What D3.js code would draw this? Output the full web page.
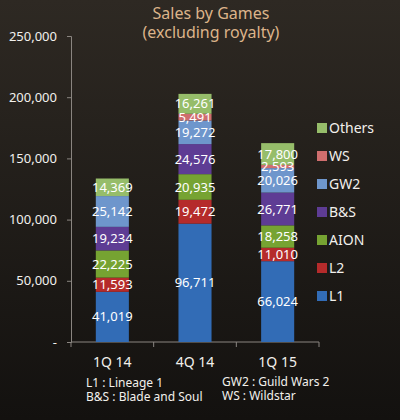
<!DOCTYPE html>
<html>
<head>
<meta charset="utf-8">
<script src="https://cdn.jsdelivr.net/npm/d3@7"></script>
<style>
  body { margin: 0; background: #1a1714; }
  svg text { font-family: "Noto Sans", "Open Sans", sans-serif; }
</style>
</head>
<body>
<div id="c"></div>
<script>
"use strict";

// chart data (values in the original units)
const quarters = ["1Q 14", "4Q 14", "1Q 15"]
const games = ["L1", "L2", "AION", "B&S", "GW2", "WS", "Others"]
const L1 = [41019, 96711, 66024]
const L2 = [11593, 19472, 11010]
const AION = [22225, 20935, 18258]
const BNS = [19234, 24576, 26771]
const GW2 = [25142, 19272, 20026]
const WS = [0, 5491, 2593]
const Others = [14369, 16261, 17800]
const yTicks = [0, 50000, 100000, 150000, 200000, 250000]
const notesLeft = ["L1 : Lineage 1", "B&S : Blade and Soul"]
const notesRight = ["GW2 : Guild Wars 2", "WS : Wildstar"]

const colors = {
    "L1": "#326cb6",
    "L2": "#b52b2b",
    "AION": "#76a332",
    "B&S": "#5e3c94",
    "GW2": "#6e96cc",
    "WS": "#cf6e6e",
    "Others": "#96bd6a"
}

const W = 400, H = 420
const margin = {top: 36, right: 81, bottom: 78, left: 71}

let svg = d3.select('#c').append('svg')
    .attr('width', W).attr('height', H)

// background gradient
let defs = svg.append('defs')
let bgGrad = defs.append('linearGradient').attr('id', 'bg')
    .attr('x1', 0).attr('y1', 0).attr('x2', 0).attr('y2', 1)
bgGrad.append('stop').attr('offset', '0%').attr('stop-color', '#2e2923')
bgGrad.append('stop').attr('offset', '100%').attr('stop-color', '#13110f')
svg.append('rect').attr('width', W).attr('height', H).attr('fill', 'url(#bg)')

// title
svg.append('text').attr('x', 211).attr('y', 19)
    .attr('text-anchor', 'middle').attr('fill', '#dcb48a')
    .style('font-size', '16px').text("Sales by Games")
svg.append('text').attr('x', 211).attr('y', 38)
    .attr('text-anchor', 'middle').attr('fill', '#dcb48a')
    .style('font-size', '16px').text("(excluding royalty)")

// build table rows
const seriesData = [L1, L2, AION, BNS, GW2, WS, Others]
let rows = quarters.map((q, i) => {
    let r = {quarter: q}
    games.forEach((g, k) => r[g] = seriesData[k][i])
    return r
})
let stacked = d3.stack().keys(games)(rows)

const width = W - margin.left - margin.right
const height = H - margin.top - margin.bottom

let xScale = d3.scaleBand().domain(quarters).range([margin.left, margin.left + width])
    .paddingInner(0.6).paddingOuter(0.3)
let yScale = d3.scaleLinear().domain([0, 250000]).range([margin.top + height, margin.top])

// axes
let yAxis = svg.append('g')
    .attr('transform', 'translate(' + margin.left + ',0)')
    .call(d3.axisLeft(yScale).tickValues(yTicks).tickSize(4).tickPadding(10)
        .tickFormat(d => d == 0 ? "-" : d3.format(",")(d)))
yAxis.select('.domain').attr('stroke', '#8a8580')
yAxis.selectAll('.tick line').attr('stroke', '#8a8580')
yAxis.selectAll('text').attr('fill', '#f2f0ec').style('font-size', '13px')

let xTickScale = d3.scaleLinear().domain([0, 3]).range([margin.left, margin.left + width])
let xAxisG = svg.append('g').attr('transform', 'translate(0,' + yScale(0) + ')')
xAxisG.append('line').attr('x1', xTickScale(0)).attr('x2', xTickScale(3))
    .attr('stroke', '#8a8580')
xAxisG.selectAll('.xt').data([0, 1, 2, 3]).enter().append('line')
    .attr('x1', d => xTickScale(d)).attr('x2', d => xTickScale(d))
    .attr('y1', 0).attr('y2', 5).attr('stroke', '#8a8580')
xAxisG.selectAll('.xl').data(quarters).enter().append('text')
    .attr('x', d => xScale(d) + xScale.bandwidth() / 2)
    .attr('y', 25).attr('text-anchor', 'middle')
    .attr('fill', '#f2f0ec').style('font-size', '14px')
    .text(d => d)

// bars
let layer = svg.append('g')
stacked.forEach(s => {
    layer.selectAll(null).data(s).enter().append('rect')
        .attr('x', d => xScale(d.data.quarter))
        .attr('width', xScale.bandwidth())
        .attr('y', d => yScale(d[1]))
        .attr('height', d => yScale(d[0]) - yScale(d[1]))
        .attr('fill', colors[s.key])
})

// value labels
stacked.forEach(s => {
    layer.selectAll(null).data(s.filter(d => d[1] - d[0] > 0)).enter().append('text')
        .attr('x', d => xScale(d.data.quarter) + xScale.bandwidth() / 2)
        .attr('y', d => yScale((d[0] + d[1]) / 2))
        .attr('dy', '0.35em')
        .attr('text-anchor', 'middle')
        .attr('fill', '#ffffff')
        .style('font-size', '13px')
        .text(d => d3.format(",")(d[1] - d[0]))
})

// legend (top to bottom: Others ... L1)
let legend = svg.append('g').attr('transform', 'translate(317,128)')
games.slice().reverse().forEach((g, i) => {
    let item = legend.append('g').attr('transform', 'translate(0,' + i * 28 + ')')
    item.append('rect').attr('x', 0).attr('y', -5).attr('width', 10).attr('height', 10)
        .attr('fill', colors[g])
    item.append('text').attr('x', 12).attr('y', 0).attr('dy', '0.35em')
        .attr('fill', '#f2f0ec').style('font-size', '14px').text(g)
})

// footnotes
notesLeft.forEach((t, i) => {
    svg.append('text').attr('x', 86).attr('y', 387 + i * 14)
        .attr('fill', '#f2f0ec').style('font-size', '12px').text(t)
})
notesRight.forEach((t, i) => {
    svg.append('text').attr('x', 222).attr('y', 386 + i * 14)
        .attr('fill', '#f2f0ec').style('font-size', '12px').text(t)
})
</script>
</body>
</html>
